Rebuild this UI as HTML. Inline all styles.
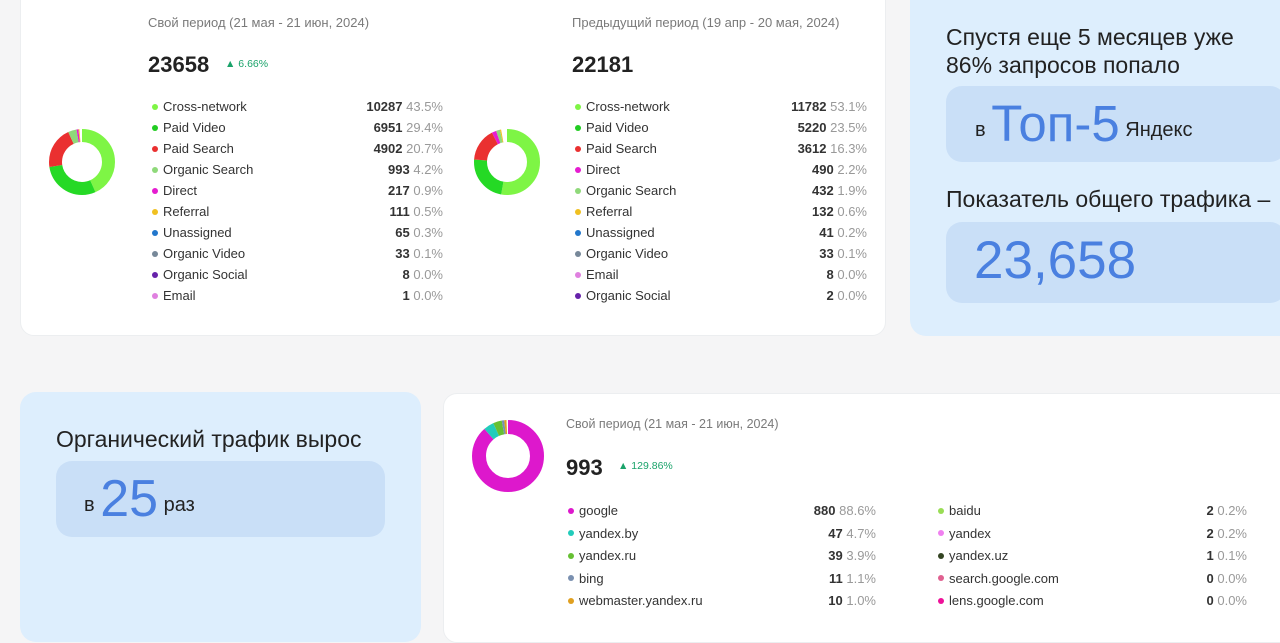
<!DOCTYPE html>
<html><head><meta charset="utf-8"><style>
*{margin:0;padding:0;box-sizing:border-box}
body{width:1280px;height:618px;background:#f5f5f6;position:relative;overflow:hidden;font-family:"Liberation Sans","Noto Sans CJK SC",sans-serif;color:#222}
.a{position:absolute;white-space:nowrap}
.card{position:absolute;background:#fff;border-radius:14px;border:1px solid #eceef0}
.blue{position:absolute;background:#ddeefd;border-radius:16px}
.box{position:absolute;background:#c9dff7;border-radius:16px}
.hd{font-size:13px;color:#7a7a7a}
.big{font-size:22px;font-weight:bold;color:#222}
.up{font-size:10.5px;color:#1aa36a}
.r{font-size:13px;color:#333;height:21px;line-height:21px}
.dot{display:inline-block;width:6px;height:6px;border-radius:50%;margin-right:5px;vertical-align:middle;position:relative;top:-1px}
.v{font-size:13px;height:21px;line-height:21px;text-align:right;width:90px}
.v b{color:#333}
.v span{color:#999}
.t{font-size:23px;color:#222}
.n{color:#4a80e0}
</style></head><body>

<div class="card" style="left:20px;top:-20px;width:866px;height:356px"></div>
<div class="blue" style="left:910px;top:-20px;width:390px;height:356px"></div>
<div class="box" style="left:946px;top:86px;width:340px;height:76px"></div>
<div class="box" style="left:946px;top:222px;width:340px;height:81px"></div>
<div class="blue" style="left:20px;top:392px;width:401px;height:250px"></div>
<div class="box" style="left:56px;top:461px;width:329px;height:76px"></div>
<div class="card" style="left:443px;top:393px;width:860px;height:250px"></div>

<!-- donut 1 -->
<svg class="a" style="left:49px;top:129px" width="66" height="66" viewBox="0 0 66 66">
<g transform="rotate(-90 33 33)" fill="none" stroke-width="13">
<circle cx="33" cy="33" r="26.5" pathLength="100" stroke="#7ef545" stroke-dasharray="43.5 100" stroke-dashoffset="0"/>
<circle cx="33" cy="33" r="26.5" pathLength="100" stroke="#25d925" stroke-dasharray="29.4 100" stroke-dashoffset="-43.5"/>
<circle cx="33" cy="33" r="26.5" pathLength="100" stroke="#ea3030" stroke-dasharray="20.7 100" stroke-dashoffset="-72.9"/>
<circle cx="33" cy="33" r="26.5" pathLength="100" stroke="#8fd97a" stroke-dasharray="4.2 100" stroke-dashoffset="-93.6"/>
<circle cx="33" cy="33" r="26.5" pathLength="100" stroke="#e51cd0" stroke-dasharray="0.9 100" stroke-dashoffset="-97.8"/>
<circle cx="33" cy="33" r="26.5" pathLength="100" stroke="#f0c020" stroke-dasharray="0.5 100" stroke-dashoffset="-98.7"/>
</g></svg>
<!-- donut 2 -->
<svg class="a" style="left:474px;top:129px" width="66" height="66" viewBox="0 0 66 66">
<g transform="rotate(-90 33 33)" fill="none" stroke-width="13">
<circle cx="33" cy="33" r="26.5" pathLength="100" stroke="#7ef545" stroke-dasharray="53.1 100" stroke-dashoffset="0"/>
<circle cx="33" cy="33" r="26.5" pathLength="100" stroke="#25d925" stroke-dasharray="23.5 100" stroke-dashoffset="-53.1"/>
<circle cx="33" cy="33" r="26.5" pathLength="100" stroke="#ea3030" stroke-dasharray="16.3 100" stroke-dashoffset="-76.6"/>
<circle cx="33" cy="33" r="26.5" pathLength="100" stroke="#e51cd0" stroke-dasharray="2.2 100" stroke-dashoffset="-92.9"/>
<circle cx="33" cy="33" r="26.5" pathLength="100" stroke="#8fd97a" stroke-dasharray="1.9 100" stroke-dashoffset="-95.1"/>
<circle cx="33" cy="33" r="26.5" pathLength="100" stroke="#f0c020" stroke-dasharray="0.6 100" stroke-dashoffset="-97"/>
</g></svg>
<!-- donut 3 -->
<svg class="a" style="left:472px;top:420px" width="72" height="72" viewBox="0 0 72 72">
<g transform="rotate(-90 36 36)" fill="none" stroke-width="14">
<circle cx="36" cy="36" r="29" pathLength="100" stroke="#dd18cc" stroke-dasharray="88.6 100" stroke-dashoffset="0"/>
<circle cx="36" cy="36" r="29" pathLength="100" stroke="#22ccbb" stroke-dasharray="4.7 100" stroke-dashoffset="-88.6"/>
<circle cx="36" cy="36" r="29" pathLength="100" stroke="#66c033" stroke-dasharray="3.9 100" stroke-dashoffset="-93.3"/>
<circle cx="36" cy="36" r="29" pathLength="100" stroke="#7a90b0" stroke-dasharray="1.1 100" stroke-dashoffset="-97.2"/>
<circle cx="36" cy="36" r="29" pathLength="100" stroke="#e0a020" stroke-dasharray="1.0 100" stroke-dashoffset="-98.3"/>
</g></svg>

<!-- card 1 -->
<div class="a hd" style="left:148px;top:15px">Свой период (21 мая - 21 июн, 2024)</div>
<div class="a big" style="left:148px;top:52px">23658</div>
<div class="a up" style="left:225px;top:58px">▲ 6.66%</div>
<div class="a" style="left:152px;top:96px">
<div class="r"><i class="dot" style="background:#7ef545"></i>Cross-network</div>
<div class="r"><i class="dot" style="background:#22cc22"></i>Paid Video</div>
<div class="r"><i class="dot" style="background:#ea3030"></i>Paid Search</div>
<div class="r"><i class="dot" style="background:#8fd97a"></i>Organic Search</div>
<div class="r"><i class="dot" style="background:#e51cd0"></i>Direct</div>
<div class="r"><i class="dot" style="background:#f0c020"></i>Referral</div>
<div class="r"><i class="dot" style="background:#2277cc"></i>Unassigned</div>
<div class="r"><i class="dot" style="background:#778899"></i>Organic Video</div>
<div class="r"><i class="dot" style="background:#6622aa"></i>Organic Social</div>
<div class="r"><i class="dot" style="background:#e080e0"></i>Email</div>
</div>
<div class="a" style="left:353px;top:96px">
<div class="v"><b>10287</b> <span>43.5%</span></div>
<div class="v"><b>6951</b> <span>29.4%</span></div>
<div class="v"><b>4902</b> <span>20.7%</span></div>
<div class="v"><b>993</b> <span>4.2%</span></div>
<div class="v"><b>217</b> <span>0.9%</span></div>
<div class="v"><b>111</b> <span>0.5%</span></div>
<div class="v"><b>65</b> <span>0.3%</span></div>
<div class="v"><b>33</b> <span>0.1%</span></div>
<div class="v"><b>8</b> <span>0.0%</span></div>
<div class="v"><b>1</b> <span>0.0%</span></div>
</div>

<!-- card 2 -->
<div class="a hd" style="left:572px;top:15px">Предыдущий период (19 апр - 20 мая, 2024)</div>
<div class="a big" style="left:572px;top:52px">22181</div>
<div class="a" style="left:575px;top:96px">
<div class="r"><i class="dot" style="background:#7ef545"></i>Cross-network</div>
<div class="r"><i class="dot" style="background:#22cc22"></i>Paid Video</div>
<div class="r"><i class="dot" style="background:#ea3030"></i>Paid Search</div>
<div class="r"><i class="dot" style="background:#e51cd0"></i>Direct</div>
<div class="r"><i class="dot" style="background:#8fd97a"></i>Organic Search</div>
<div class="r"><i class="dot" style="background:#f0c020"></i>Referral</div>
<div class="r"><i class="dot" style="background:#2277cc"></i>Unassigned</div>
<div class="r"><i class="dot" style="background:#778899"></i>Organic Video</div>
<div class="r"><i class="dot" style="background:#e080e0"></i>Email</div>
<div class="r"><i class="dot" style="background:#6622aa"></i>Organic Social</div>
</div>
<div class="a" style="left:777px;top:96px">
<div class="v"><b>11782</b> <span>53.1%</span></div>
<div class="v"><b>5220</b> <span>23.5%</span></div>
<div class="v"><b>3612</b> <span>16.3%</span></div>
<div class="v"><b>490</b> <span>2.2%</span></div>
<div class="v"><b>432</b> <span>1.9%</span></div>
<div class="v"><b>132</b> <span>0.6%</span></div>
<div class="v"><b>41</b> <span>0.2%</span></div>
<div class="v"><b>33</b> <span>0.1%</span></div>
<div class="v"><b>8</b> <span>0.0%</span></div>
<div class="v"><b>2</b> <span>0.0%</span></div>
</div>

<!-- right panel -->
<div class="a t" style="left:946px;top:23px;line-height:28px">Спустя еще 5 месяцев уже<br>86% запросов попало</div>
<div class="a t" style="left:975px;top:94px;font-size:20px">в <span class="n" style="font-size:51px;vertical-align:-5px">Топ-5</span> Яндекс</div>
<div class="a t" style="left:946px;top:186px">Показатель общего трафика –</div>
<div class="a n" style="left:974px;top:230px;font-size:53px">23,658</div>

<!-- bottom left -->
<div class="a t" style="left:56px;top:426px">Органический трафик вырос</div>
<div class="a t" style="left:84px;top:469px;font-size:20px">в <span class="n" style="font-size:52px;vertical-align:-5px">25</span> раз</div>

<!-- bottom card -->
<div class="a hd" style="left:566px;top:417px;font-size:12.5px">Свой период (21 мая - 21 июн, 2024)</div>
<div class="a big" style="left:566px;top:455px">993</div>
<div class="a up" style="left:618px;top:460px">▲ 129.86%</div>
<div class="a" style="left:568px;top:500px">
<div class="r" style="height:22.5px"><i class="dot" style="background:#dd18cc"></i>google</div>
<div class="r" style="height:22.5px"><i class="dot" style="background:#22ccbb"></i>yandex.by</div>
<div class="r" style="height:22.5px"><i class="dot" style="background:#66c033"></i>yandex.ru</div>
<div class="r" style="height:22.5px"><i class="dot" style="background:#7a90b0"></i>bing</div>
<div class="r" style="height:22.5px"><i class="dot" style="background:#e0a020"></i>webmaster.yandex.ru</div>
</div>
<div class="a" style="left:786px;top:500px">
<div class="v" style="height:22.5px"><b>880</b> <span>88.6%</span></div>
<div class="v" style="height:22.5px"><b>47</b> <span>4.7%</span></div>
<div class="v" style="height:22.5px"><b>39</b> <span>3.9%</span></div>
<div class="v" style="height:22.5px"><b>11</b> <span>1.1%</span></div>
<div class="v" style="height:22.5px"><b>10</b> <span>1.0%</span></div>
</div>
<div class="a" style="left:938px;top:500px">
<div class="r" style="height:22.5px"><i class="dot" style="background:#99dd55"></i>baidu</div>
<div class="r" style="height:22.5px"><i class="dot" style="background:#f080f0"></i>yandex</div>
<div class="r" style="height:22.5px"><i class="dot" style="background:#334422"></i>yandex.uz</div>
<div class="r" style="height:22.5px"><i class="dot" style="background:#e06090"></i>search.google.com</div>
<div class="r" style="height:22.5px"><i class="dot" style="background:#ee1199"></i>lens.google.com</div>
</div>
<div class="a" style="left:1157px;top:500px">
<div class="v" style="height:22.5px"><b>2</b> <span>0.2%</span></div>
<div class="v" style="height:22.5px"><b>2</b> <span>0.2%</span></div>
<div class="v" style="height:22.5px"><b>1</b> <span>0.1%</span></div>
<div class="v" style="height:22.5px"><b>0</b> <span>0.0%</span></div>
<div class="v" style="height:22.5px"><b>0</b> <span>0.0%</span></div>
</div>
</body></html>
